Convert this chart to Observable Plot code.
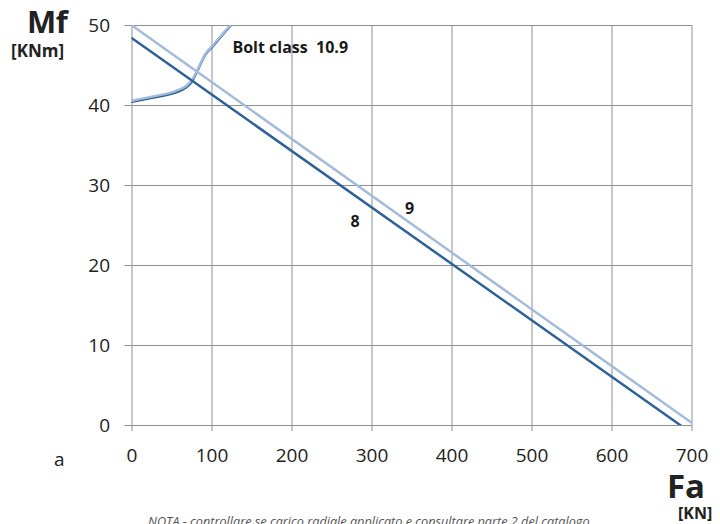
<!DOCTYPE html>
<html>
<head>
<meta charset="utf-8">
<script src="https://cdn.jsdelivr.net/npm/d3@7"></script>
<script src="https://cdn.jsdelivr.net/npm/@observablehq/plot@0.6"></script>
<style>
  html, body { margin: 0; padding: 0; background: #fff; }
  #wrap { position: relative; width: 720px; height: 524px; overflow: hidden; font-family: "Open Sans", sans-serif; color: #222; }
  #wrap svg { position: absolute; left: 0; top: 0; }
  .lbl { position: absolute; white-space: nowrap; line-height: 0.75; }
</style>
</head>
<body>
<div id="wrap"></div>
<script>
// Axis ticks
const xTicks = [0, 100, 200, 300, 400, 500, 600, 700];
const yTicks = [0, 10, 20, 30, 40, 50];

// Bolt class 8 line
const class8Fa = [0, 686];
const class8Mf = [48.4, 0];

// Bolt class 9 line
const class9Fa = [0, 700];
const class9Mf = [50, 0.3];

// Curve (two overlapping traces)
const curveFa      = [0,    25,   54,   67,   75,   82,   92,   100,  112,  125];
const curveMfLight = [40.6, 41.1, 41.8, 42.4, 43.2, 44.5, 46.5, 47.4, 48.8, 50.3];
const curveMfDark  = [40.45,40.95,41.6, 42.2, 43.0, 44.4, 46.4, 47.3, 48.7, 50.2];

// Annotations
const titleText = ["Bolt class  10.9"];
const titleFa   = [125.5];
const titleMf   = [47.2];
const classText = ["8", "9"];
const classFa   = [279, 347];
const classMf   = [25.5, 27.1];

const toRows = (xs, ys) => xs.map((x, i) => ({Fa: x, Mf: ys[i]}));
const c8 = toRows(class8Fa, class8Mf);
const c9 = toRows(class9Fa, class9Mf);
const curL = toRows(curveFa, curveMfLight);
const curD = toRows(curveFa, curveMfDark);
const title = titleText.map((t, i) => ({t, Fa: titleFa[i], Mf: titleMf[i]}));
const cls = classText.map((t, i) => ({t, Fa: classFa[i], Mf: classMf[i]}));

const darkBlue = "#2f6298";
const lightBlue = "#a4bbd9";

const chart = Plot.plot({
  width: 720,
  height: 524,
  marginLeft: 131.5,
  marginRight: 28.5,
  marginTop: 25,
  marginBottom: 99,
  style: {fontFamily: "'Open Sans', sans-serif", fontSize: "19px", color: "#222", background: "transparent"},
  x: {domain: [0, 700]},
  y: {domain: [0, 50]},
  marks: [
    Plot.gridX(xTicks, {stroke: "#8f8f8f", strokeOpacity: 1}),
    Plot.gridY(yTicks, {stroke: "#8f8f8f", strokeOpacity: 1}),
    Plot.axisX(xTicks, {tickSize: 6, tickPadding: 17, stroke: "#8f8f8f", label: null, tickFormat: d => String(d)}),
    Plot.axisY(yTicks, {tickSize: 7, tickPadding: 15, stroke: "#8f8f8f", label: null, tickFormat: d => String(d)}),
    Plot.line(curD, {x: "Fa", y: "Mf", stroke: darkBlue, strokeWidth: 2.4, curve: "monotone-x", clip: true}),
    Plot.line(curL, {x: "Fa", y: "Mf", stroke: lightBlue, strokeWidth: 2.4, curve: "monotone-x", clip: true}),
    Plot.line(c8, {x: "Fa", y: "Mf", stroke: darkBlue, strokeWidth: 2.5, clip: true}),
    Plot.line(c9, {x: "Fa", y: "Mf", stroke: lightBlue, strokeWidth: 2.5, clip: true}),
    Plot.text(title, {x: "Fa", y: "Mf", text: "t", textAnchor: "start", fontSize: 16, fontWeight: "bold", fill: "#1a1a1a"}),
    Plot.text(cls, {x: "Fa", y: "Mf", text: "t", textAnchor: "middle", fontSize: 16, fontWeight: "bold", fill: "#1a1a1a"})
  ]
});

const wrap = document.getElementById("wrap");
wrap.appendChild(chart);

function addLabel(text, style) {
  const d = document.createElement("div");
  d.className = "lbl";
  d.textContent = text;
  Object.assign(d.style, style);
  wrap.appendChild(d);
  return d;
}
addLabel("Mf", {left: "27px", top: "10px", fontSize: "31px", fontWeight: "bold", letterSpacing: "-0.5px"});
addLabel("[KNm]", {left: "11px", top: "45px", fontSize: "17px", fontWeight: "bold"});
addLabel("Fa", {left: "667px", top: "474px", fontSize: "33px", fontWeight: "bold"});
addLabel("[KN]", {left: "678px", top: "507px", fontSize: "16px", fontWeight: "bold"});
addLabel("a", {left: "54px", top: "452px", fontSize: "19px"});
addLabel("NOTA - controllare se carico radiale applicato e consultare parte 2 del catalogo",
  {left: "148px", top: "517px", fontSize: "12.7px", fontStyle: "italic", color: "#555", letterSpacing: "0px"});
</script>
</body>
</html>
